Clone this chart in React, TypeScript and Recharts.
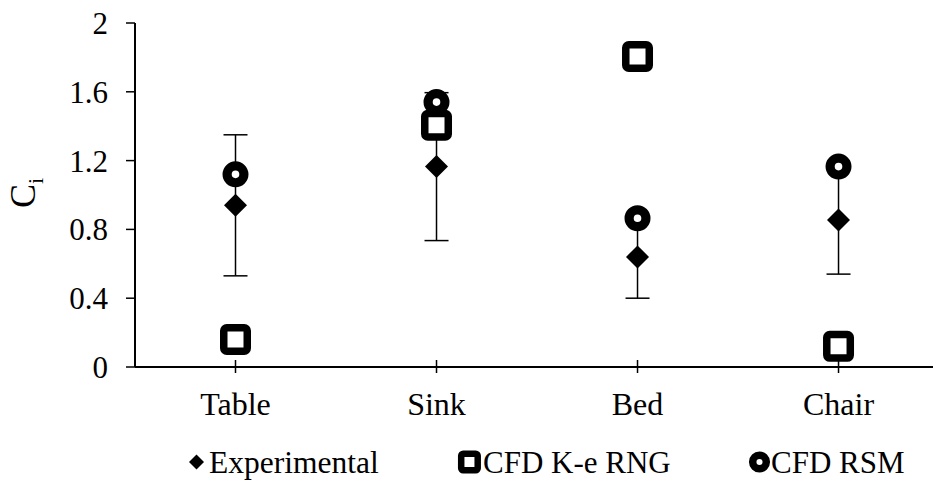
import React from 'react';
import { ScatterChart, Scatter, XAxis, YAxis, ErrorBar } from 'recharts';

const categories = ['Table', 'Sink', 'Bed', 'Chair'];
const experimental = [0.94, 1.165, 0.64, 0.855];
const experimentalError = [0.41, 0.43, 0.24, 0.315];
const cfdKeRng = [0.16, 1.405, 1.805, 0.12];
const cfdRsm = [1.12, 1.54, 0.865, 1.165];
const yTicks = [0, 0.4, 0.8, 1.2, 1.6, 2];
const xTicks = [0, 1, 2, 3];
const seriesNames = ['Experimental', 'CFD K-e RNG', 'CFD RSM'];

const FONT = '"Liberation Serif", "Times New Roman", serif';

const expData = categories.map((c, i) => ({ x: i, y: experimental[i], err: experimentalError[i], name: c }));
const rngData = categories.map((c, i) => ({ x: i, y: cfdKeRng[i], name: c }));
const rsmData = categories.map((c, i) => ({ x: i, y: cfdRsm[i], name: c }));

const Diamond = (props: any) => {
  const { cx, cy } = props;
  const h = 11.5;
  return <polygon points={`${cx},${cy - h} ${cx + h},${cy} ${cx},${cy + h} ${cx - h},${cy}`} fill="#000" />;
};

const SquareMark = (props: any) => {
  const { cx, cy } = props;
  const s = 23.5;
  return <rect x={cx - s / 2} y={cy - s / 2} width={s} height={s} rx={3} fill="#fff" stroke="#000" strokeWidth={7.5} />;
};

const RingMark = (props: any) => {
  const { cx, cy } = props;
  return <circle cx={cx} cy={cy} r={8.4} fill="#fff" stroke="#000" strokeWidth={9.2} />;
};

const XTick = (props: any) => {
  const { x, y, payload } = props;
  return (
    <g>
      <line x1={x} x2={x} y1={y - 7} y2={y + 6} stroke="#000" strokeWidth={1.5} />
      <text x={x} y={y + 48} textAnchor="middle" fontSize={32} fontFamily={FONT} fill="#000">
        {categories[payload.value]}
      </text>
    </g>
  );
};

const YLabel = () => (
  <text transform="rotate(-90, 35, 193)" x={35} y={193} textAnchor="middle" fontFamily={FONT} fill="#000" fontSize={36}>
    C<tspan fontSize={22} dy={8}>i</tspan>
  </text>
);

const LegendBox = () => (
  <svg width={933} height={40} style={{ position: 'absolute', left: 0, top: 440, display: 'block' }}>
    <polygon points="196.5,14.5 204,22 196.5,29.5 189,22" fill="#000" />
    <text x={209} y={33} fontSize={31.5} fontFamily={FONT} fill="#000">
      {seriesNames[0]}
    </text>
    <rect x={461.2} y={13.7} width={16.5} height={16.5} rx={2} fill="#fff" stroke="#000" strokeWidth={6.5} />
    <text x={483} y={33} fontSize={31} fontFamily={FONT} fill="#000">
      {seriesNames[1]}
    </text>
    <circle cx={759.5} cy={22} r={6.8} fill="#fff" stroke="#000" strokeWidth={7.5} />
    <text x={771} y={33} fontSize={31} fontFamily={FONT} fill="#000">
      {seriesNames[2]}
    </text>
  </svg>
);

export default function App() {
  return (
    <div style={{ position: 'absolute', left: 0, top: 0, width: 933, height: 480, background: '#fff' }}>
      <ScatterChart width={933} height={480} margin={{ top: 23, right: 0, bottom: 83, left: 0 }}>
        <XAxis
          dataKey="x"
          type="number"
          domain={[-0.5, 3.47]}
          ticks={xTicks}
          allowDataOverflow
          height={30}
          tickSize={0}
          tickMargin={0}
          tickLine={false}
          axisLine={{ stroke: '#000', strokeWidth: 2 }}
          tick={<XTick />}
          interval={0}
        />
        <YAxis
          dataKey="y"
          type="number"
          domain={[0, 2]}
          ticks={yTicks}
          width={135}
          tickSize={9}
          tickMargin={18}
          axisLine={{ stroke: '#000', strokeWidth: 2 }}
          tickLine={{ stroke: '#000', strokeWidth: 1.5 }}
          tick={{ fill: '#000', fontSize: 31, fontFamily: FONT }}
          tickFormatter={(v: number) => String(v)}
          label={<YLabel />}
          interval={0}
        />
        <Scatter name={seriesNames[1]} data={rngData} shape={<SquareMark />} isAnimationActive={false} />
        <Scatter name={seriesNames[2]} data={rsmData} shape={<RingMark />} isAnimationActive={false} />
        <Scatter name={seriesNames[0]} data={expData} shape={<Diamond />} isAnimationActive={false}>
          <ErrorBar dataKey="err" direction="y" width={12} stroke="#000" strokeWidth={1.5} />
        </Scatter>
      </ScatterChart>
      <LegendBox />
    </div>
  );
}
